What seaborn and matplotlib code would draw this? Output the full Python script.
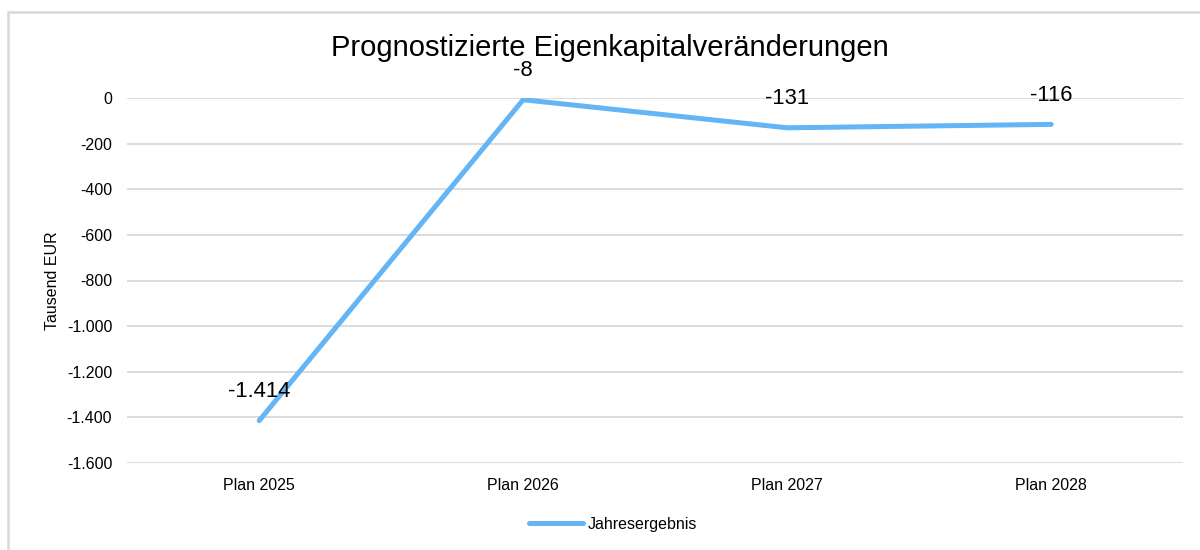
import matplotlib
matplotlib.use("Agg")
import matplotlib.pyplot as plt
import matplotlib.ticker as mticker
from matplotlib.lines import Line2D
import pandas as pd
import seaborn as sns

# --- data ---
periods = ["Plan 2025", "Plan 2026", "Plan 2027", "Plan 2028"]
jahresergebnis = [-1414, -8, -131, -116]
series_name = "Jahresergebnis"

df = pd.DataFrame({"Periode": periods, "Wert": jahresergebnis, "Serie": series_name})

sns.set_theme(style="white")
plt.rcParams["font.family"] = ["Liberation Sans", "DejaVu Sans"]
plt.rcParams["text.color"] = "black"
plt.rcParams["axes.labelcolor"] = "black"

line_color = "#64B5F6"
grid_color = "#D9D9D9"

fig = plt.figure(figsize=(12, 5.5), dpi=100)
ax = fig.add_axes([0.106, 0.158, 0.880, 0.664])

sns.lineplot(data=df, x="Periode", y="Wert", hue="Serie", palette=[line_color],
             linewidth=3.6, ax=ax, sort=False, solid_capstyle="round")

# data labels above the points
for i, v in enumerate(jahresergebnis):
    ax.annotate(f"{v:,}".replace(",", "."), (i, v), xytext=(0, 21),
                textcoords="offset points", ha="center", va="center",
                fontsize=15.8, color="black")

ax.set_xlim(-0.5, 3.5)
ax.set_ylim(-1600, 0)
ax.yaxis.set_major_locator(mticker.MultipleLocator(200))
ax.yaxis.set_major_formatter(
    mticker.FuncFormatter(lambda v, _: f"{int(v):,}".replace(",", ".")))
ax.grid(axis="y", color=grid_color, linewidth=1.3)
ax.set_axisbelow(True)
for s in ax.spines.values():
    s.set_visible(False)
ax.tick_params(axis="both", length=0, colors="black")
ax.tick_params(axis="y", labelsize=11.5, pad=10.8)
ax.tick_params(axis="x", labelsize=11.5, pad=11)

ax.set_xlabel("")
ax.set_ylabel("Tausend EUR", fontsize=11.5)
ax.yaxis.set_label_coords(-0.064, 0.5)

fig.text(0.508, 1 - 48 / 550, "Prognostizierte Eigenkapitalveränderungen",
         fontsize=21, ha="center", va="center", color="black")

ax.legend(loc="center", bbox_to_anchor=(0.46, -0.167), frameon=False,
          fontsize=11.5, handlelength=3.4, handletextpad=0.25)

# thin grey frame (top and left visible in the reference)
fig.add_artist(Line2D([8 / 1200, 1], [1 - 12 / 550, 1 - 12 / 550],
                      transform=fig.transFigure, color=grid_color, linewidth=1.8))
fig.add_artist(Line2D([8 / 1200, 8 / 1200], [0, 1 - 12 / 550],
                      transform=fig.transFigure, color=grid_color, linewidth=1.8))

fig.savefig("out.png", dpi=100)
